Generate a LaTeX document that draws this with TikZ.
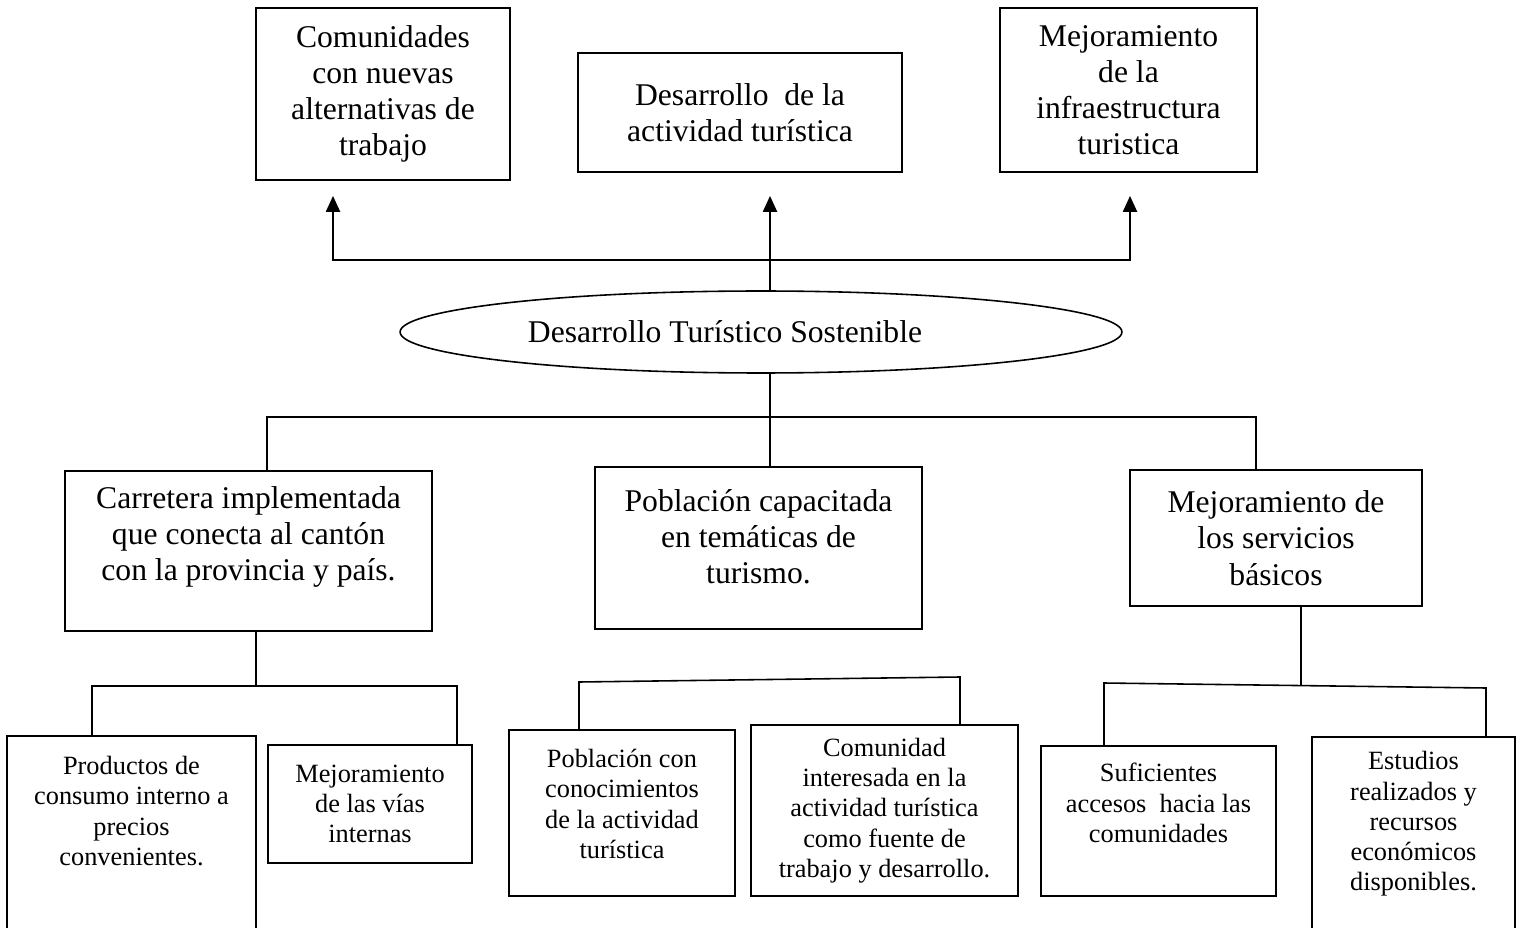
\documentclass[tikz,border=0pt]{standalone}
\usepackage{fontspec}
\setmainfont{Liberation Serif}
\usetikzlibrary{arrows.meta,shapes.geometric}

\tikzset{
  box/.style={draw, line width=1.1pt, inner sep=0pt},
  big/.style={align=center, font=\fontsize{18}{20.6}\selectfont},
  small/.style={align=center, font=\fontsize{15}{17.2}\selectfont},
  link/.style={line width=0.9pt},
  arr/.style={link, -{Triangle[width=8pt,length=9pt]}},
}

\begin{document}
\begin{tikzpicture}[x=0.02cm,y=-0.02cm]
\clip (0,0) rectangle (1523,928);
\fill[white] (0,0) rectangle (1523,928);

% efectos
\node[box,big,minimum width=5.08cm,minimum height=3.44cm] (comun) at (383,94) {Comunidades\\con nuevas\\alternativas de\\trabajo};
\node[box,big,minimum width=6.48cm,minimum height=2.38cm] (desar) at (740,112.5) {Desarrollo~ de la\\actividad turística};
\node[box,big,minimum width=5.14cm,minimum height=3.28cm] (mejinf) at (1128.5,90) {Mejoramiento\\de la\\infraestructura\\turistica};

% problema central
\node[draw,ellipse,link,inner sep=0pt,minimum width=14.44cm,minimum height=1.64cm] (dts) at (761,332) {};
\node[big] (dtstext) at (725,332) {Desarrollo Turístico Sostenible};

% medios
\node[box,minimum width=7.34cm,minimum height=3.2cm] (carre) at (248.5,551) {};
\node[big] (carretext) at (248.5,537) {Carretera implementada\\que conecta al cantón\\con la provincia y país.};
\node[box,minimum width=6.54cm,minimum height=3.24cm] (capac) at (758.5,548) {};
\node[big] (capactext) at (758.5,537) {Población capacitada\\en temáticas de\\turismo.};
\node[box,big,minimum width=5.84cm,minimum height=2.72cm] (servi) at (1276,538) {Mejoramiento de\\los servicios\\básicos};

% fines
\node[box,minimum width=4.98cm,minimum height=4.08cm] (produ) at (131.5,838) {};
\node[small] (produtext) at (131.5,811) {Productos de\\consumo interno a\\precios\\convenientes.};
\node[box,small,minimum width=4.08cm,minimum height=2.36cm] (vias) at (370,804) {Mejoramiento\\de las vías\\internas};
\node[box,minimum width=4.52cm,minimum height=3.32cm] (pobla) at (622,813) {};
\node[small] (poblatext) at (622,804) {Población con\\conocimientos\\de la actividad\\turística};
\node[box,small,minimum width=5.34cm,minimum height=3.42cm] (comint) at (884.5,810.5) {Comunidad\\interesada en la\\actividad turística\\como fuente de\\trabajo y desarrollo.};
\node[box,minimum width=4.7cm,minimum height=3cm] (sufic) at (1158.5,821) {};
\node[small] (sufictext) at (1158.5,803) {Suficientes\\accesos~ hacia las\\comunidades};
\node[box,minimum width=4.06cm,minimum height=4.06cm] (estud) at (1413.5,838.5) {};
\node[small] (estudtext) at (1413.5,824) {Estudios\\realizados y\\recursos\\económicos\\disponibles.};

% conectores arriba
\coordinate (hubT) at (770,260);
\draw[arr,shorten >=0.46cm] (hubT |- dts.north) -- (hubT |- desar.south);
\draw[arr,shorten >=0.3cm] (hubT) -| ([xshift=-1cm]comun.south);
\draw[arr,shorten >=0.46cm] (hubT) -| ([xshift=0.03cm]mejinf.south);

% conectores abajo
\coordinate (hubM) at (770,417);
\draw[link] (hubM |- dts.south) -- (hubM |- capac.north);
\draw[link] (hubM) -| ([xshift=0.37cm]carre.north);
\draw[link] (hubM) -| ([xshift=-0.4cm]servi.north);

\coordinate (hubD) at (256,686);
\draw[link] (hubD |- carre.south) -- (hubD);
\draw[link] (hubD) -| ([xshift=-0.79cm]produ.north);
\draw[link] (hubD) -| ([xshift=1.74cm]vias.north);

\coordinate (barEl) at (579,682);
\coordinate (barEr) at (960,677);
\draw[link] (barEl |- pobla.north) -- (barEl) -- (barEr) -- (barEr |- comint.north);

\coordinate (hubF) at (1301,685.5);
\coordinate (barFl) at (1104,683);
\coordinate (barFr) at (1486,688);
\draw[link] (hubF |- servi.south) -- (hubF);
\draw[link] (barFl |- sufic.north) -- (barFl) -- (barFr) -- (barFr |- estud.north);
\end{tikzpicture}
\end{document}
